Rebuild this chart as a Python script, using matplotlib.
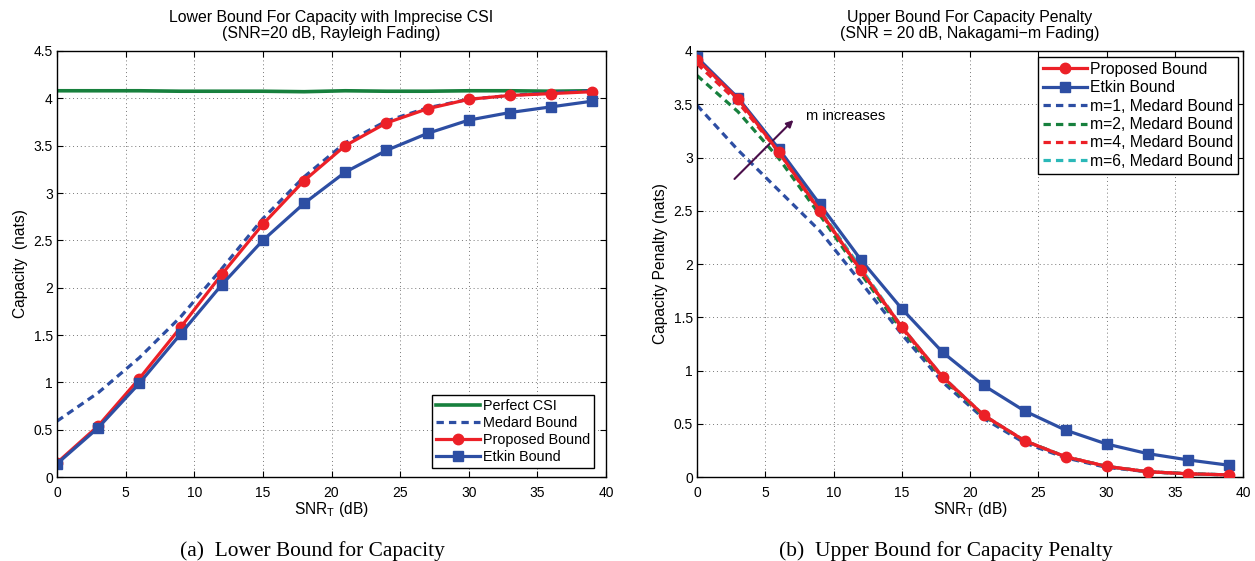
import matplotlib.pyplot as plt
import numpy as np

plt.rcParams['font.family'] = ['Liberation Sans', 'DejaVu Sans']
plt.rcParams['mathtext.default'] = 'regular'

RED = '#ec2027'
BLUE = '#2d4ea3'
GREEN = '#17803d'
CYAN = '#2bb8b8'

snr = [0, 3, 6, 9, 12, 15, 18, 21, 24, 27, 30, 33, 36, 39]

# (a) lower bound for capacity
perfect_csi = [4.08, 4.08, 4.08, 4.075, 4.075, 4.075, 4.07, 4.08, 4.075, 4.075, 4.08, 4.08, 4.075, 4.08]
medard_a = [0.59, 0.89, 1.26, 1.69, 2.20, 2.73, 3.17, 3.53, 3.76, 3.90, 3.99, 4.03, 4.06, 4.08]
proposed_a = [0.15, 0.54, 1.04, 1.58, 2.14, 2.67, 3.13, 3.50, 3.74, 3.89, 3.99, 4.03, 4.05, 4.07]
etkin_a = [0.14, 0.52, 0.99, 1.51, 2.03, 2.50, 2.89, 3.22, 3.45, 3.63, 3.77, 3.85, 3.91, 3.97]

# (b) upper bound for capacity penalty
proposed_b = [3.92, 3.55, 3.05, 2.50, 1.94, 1.41, 0.94, 0.58, 0.34, 0.19, 0.10, 0.05, 0.03, 0.02]
etkin_b = [3.94, 3.56, 3.08, 2.56, 2.04, 1.58, 1.17, 0.86, 0.62, 0.44, 0.31, 0.22, 0.16, 0.11]
medard_m1 = [3.49, 3.07, 2.69, 2.31, 1.83, 1.34, 0.89, 0.55, 0.32, 0.18, 0.09, 0.05, 0.03, 0.02]
medard_m2 = [3.77, 3.43, 2.99, 2.46, 1.91, 1.38, 0.92, 0.57, 0.34, 0.19, 0.10, 0.05, 0.03, 0.02]
medard_m4 = [3.88, 3.52, 3.05, 2.49, 1.94, 1.40, 0.93, 0.58, 0.34, 0.19, 0.10, 0.05, 0.03, 0.02]
medard_m6 = [3.92, 3.55, 3.07, 2.51, 1.96, 1.41, 0.94, 0.58, 0.34, 0.19, 0.10, 0.05, 0.03, 0.02]

LW = 2.3
MS = 7.5
DASH = (0, (2.3, 1.6))


def style_axes(ax, ymax):
    ax.set_xlim(0, 40)
    ax.set_ylim(0, ymax)
    ax.set_xticks(np.arange(0, 41, 5))
    ax.set_yticks(np.arange(0, ymax + 0.01, 0.5))
    ax.set_yticklabels(['%g' % v for v in np.arange(0, ymax + 0.01, 0.5)])
    ax.grid(True, linestyle=(0, (1, 3)), color='#777777', linewidth=0.7)
    ax.tick_params(direction='in', top=True, right=True, labelsize=10, length=4)
    ax.tick_params(axis='x', pad=6.5)
    ax.tick_params(axis='y', pad=3)
    for s in ax.spines.values():
        s.set_linewidth(1.0)
    ax.set_xlabel('SNR$_T$ (dB)', fontsize=11.2, labelpad=0)


fig = plt.figure(figsize=(12.55, 5.61), dpi=100)
ax1 = fig.add_axes([0.0454, 0.1497, 0.4375, 0.7594])
ax2 = fig.add_axes([0.5554, 0.1497, 0.4351, 0.7594])

ax1.plot(snr, perfect_csi, color=GREEN, lw=LW + 0.3, label='Perfect CSI')
ax1.plot(snr, medard_a, color=BLUE, lw=LW, ls=DASH, label='Medard Bound')
ax1.plot(snr, proposed_a, color=RED, lw=LW, marker='o', ms=MS, label='Proposed Bound')
ax1.plot(snr, etkin_a, color=BLUE, lw=LW, marker='s', ms=MS, label='Etkin Bound')
style_axes(ax1, 4.5)
ax1.set_ylabel('Capacity  (nats)', fontsize=11.2, labelpad=4)
ax1.set_title('Lower Bound For Capacity with Imprecise CSI\n(SNR=20 dB, Rayleigh Fading)',
              fontsize=11.4, pad=9.5, linespacing=1.1)
leg1 = ax1.legend(loc='lower right', fontsize=10.4, fancybox=False, edgecolor='black',
                  framealpha=1, handlelength=3, handletextpad=0.2, borderpad=0.3,
                  labelspacing=0.2, borderaxespad=0, bbox_to_anchor=(0.978, 0.021))
leg1.get_frame().set_linewidth(1.0)

ax2.plot(snr, proposed_b, color=RED, lw=LW, marker='o', ms=MS, label='Proposed Bound', zorder=4)
ax2.plot(snr, etkin_b, color=BLUE, lw=LW, marker='s', ms=MS, label='Etkin Bound', zorder=3)
ax2.plot(snr, medard_m1, color=BLUE, lw=LW, ls=DASH, label='m=1, Medard Bound')
ax2.plot(snr, medard_m2, color=GREEN, lw=LW, ls=DASH, label='m=2, Medard Bound')
ax2.plot(snr, medard_m4, color=RED, lw=LW, ls=DASH, label='m=4, Medard Bound')
ax2.plot(snr, medard_m6, color=CYAN, lw=LW, ls=DASH, label='m=6, Medard Bound')
style_axes(ax2, 4.0)
ax2.set_ylabel('Capacity Penalty (nats)', fontsize=11.2, labelpad=4)
ax2.set_title('Upper Bound For Capacity Penalty\n(SNR = 20 dB, Nakagami\u2212m Fading)',
              fontsize=11.4, pad=9.5, linespacing=1.1)
leg2 = ax2.legend(loc='upper right', fontsize=11.3, fancybox=False, edgecolor='black',
                  framealpha=1, handlelength=2.8, handletextpad=0.2, borderpad=0.3,
                  labelspacing=0.22, borderaxespad=0, bbox_to_anchor=(0.99, 0.986))
leg2.get_frame().set_linewidth(1.0)
ax2.annotate('', xy=(7.2, 3.37), xytext=(2.6, 2.78),
             arrowprops=dict(arrowstyle='-|>', color='#4a0f4a', lw=1.5, mutation_scale=10))
ax2.text(8.0, 3.39, 'm increases', fontsize=10.5, va='center', ha='left')

fig.text(0.249, 0.017, '(a)  Lower Bound for Capacity', family=['Liberation Serif'],
         fontsize=15.4, ha='center', va='center')
fig.text(0.754, 0.017, '(b)  Upper Bound for Capacity Penalty', family=['Liberation Serif'],
         fontsize=15.4, ha='center', va='center')

fig.savefig('out.png', dpi=100)
